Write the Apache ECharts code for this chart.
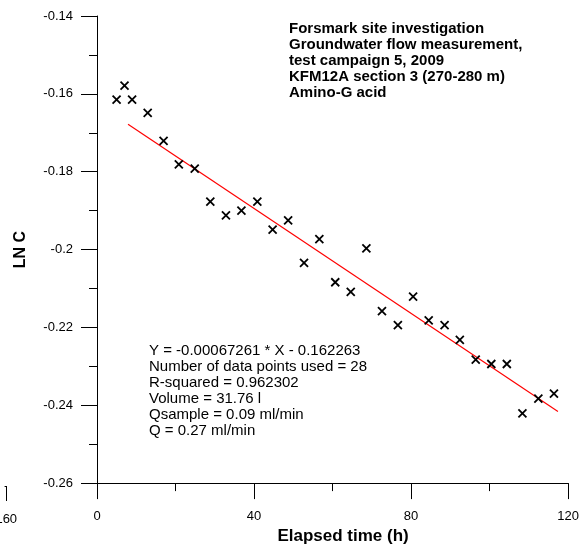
<!DOCTYPE html>
<html>
<head>
<meta charset="utf-8">
<script src="https://cdn.jsdelivr.net/npm/echarts@6/dist/echarts.min.js"></script>
<style>
html,body{margin:0;padding:0;background:#fff;}
#chart{width:582px;height:550px;}
</style>
</head>
<body>
<div id="chart"></div>
<script>
// Elapsed time (h) of each measurement
var timeH = [4.99, 7.01, 8.94, 12.91, 16.96, 20.84, 24.89, 28.86, 32.84, 36.78,
  40.84, 44.73, 48.68, 52.73, 56.63, 60.68, 64.63, 68.61, 72.58, 76.63,
  80.51, 84.48, 88.53, 92.41, 96.46, 100.43, 104.38, 108.35, 112.41, 116.38];
// LN C values
var lnC = [-0.1615, -0.1579, -0.1615, -0.1649, -0.1721, -0.1781, -0.1792, -0.1877, -0.1912, -0.1900,
  -0.1877, -0.1949, -0.1925, -0.2034, -0.1973, -0.2084, -0.2109, -0.1997, -0.2158, -0.2194,
  -0.2121, -0.2182, -0.2194, -0.2232, -0.2283, -0.2294, -0.2294, -0.2421, -0.2383, -0.2370];
// Regression line end points
var fitX = [7.9, 117.4];
var fitY = [-0.1678, -0.2416];
// Axis settings
var xTicks = {min: 0, max: 120, interval: 40};
var yTicks = {min: -0.26, max: -0.14, interval: 0.02};
// Fragment of a neighbouring panel's axis at the far left edge
var strayTicks = {min: 150, max: 160, shown: [160]};
// Texts
var titleLines = [
  'Forsmark site investigation',
  'Groundwater flow measurement,',
  'test campaign 5, 2009',
  'KFM12A section 3 (270-280 m)',
  'Amino-G acid'
];
var statLines = [
  'Y = -0.00067261 * X - 0.162263',
  'Number of data points used = 28',
  'R-squared = 0.962302',
  'Volume = 31.76 l',
  'Qsample = 0.09 ml/min',
  'Q = 0.27 ml/min'
];
var xName = 'Elapsed time (h)';
var yName = 'LN C';

var FONT = '"Liberation Sans", Arial, sans-serif';
var chart = echarts.init(document.getElementById('chart'), null, {renderer: 'canvas'});

var points = timeH.map(function (t, i) { return [t, lnC[i]]; });
var fitLine = fitX.map(function (t, i) { return [t, fitY[i]]; });

chart.setOption({
  animation: false,
  backgroundColor: '#fff',
  grid: [
    {left: 97, top: 16, width: 474, height: 470, containLabel: false},
    {left: 0, top: 16, width: 5, height: 470, containLabel: false}
  ],
  xAxis: [{
    gridIndex: 0,
    type: 'value',
    min: xTicks.min, max: xTicks.max, interval: xTicks.interval,
    name: xName,
    nameLocation: 'middle',
    nameGap: 39,
    nameTextStyle: {fontFamily: FONT, fontWeight: 'bold', fontSize: 17, color: '#000', padding: [0, 0, 0, 21]},
    axisLine: {show: true, onZero: false, lineStyle: {color: '#000', width: 1}},
    axisTick: {show: true, inside: false, length: 16, lineStyle: {color: '#000', width: 1}},
    minorTick: {show: true, splitNumber: 2, length: 8, lineStyle: {color: '#000', width: 1}},
    axisLabel: {fontFamily: FONT, fontSize: 13, color: '#000', margin: 27},
    splitLine: {show: false},
    minorSplitLine: {show: false}
  }, {
    gridIndex: 1,
    type: 'value',
    min: strayTicks.min, max: strayTicks.max, interval: strayTicks.max - strayTicks.min,
    axisLine: {show: true, onZero: false, lineStyle: {color: '#000', width: 1}},
    axisTick: {show: true, inside: false, length: 15, customValues: strayTicks.shown, lineStyle: {color: '#000', width: 1}},
    axisLabel: {fontFamily: FONT, fontSize: 13, color: '#000', margin: 27, customValues: strayTicks.shown, showMinLabel: false},
    splitLine: {show: false}
  }],
  yAxis: [{
    gridIndex: 0,
    type: 'value',
    min: yTicks.min, max: yTicks.max, interval: yTicks.interval,
    name: yName,
    nameLocation: 'middle',
    nameGap: 68,
    nameRotate: 90,
    nameTextStyle: {fontFamily: FONT, fontWeight: 'bold', fontSize: 16, color: '#000'},
    axisLine: {show: true, onZero: false, lineStyle: {color: '#000', width: 1}},
    axisTick: {show: true, inside: false, length: 16, lineStyle: {color: '#000', width: 1}},
    minorTick: {show: true, splitNumber: 2, length: 8, lineStyle: {color: '#000', width: 1}},
    axisLabel: {fontFamily: FONT, fontSize: 13, color: '#000', margin: 24},
    splitLine: {show: false},
    minorSplitLine: {show: false}
  }, {
    gridIndex: 1,
    type: 'value',
    show: false,
    min: yTicks.min, max: yTicks.max
  }],
  series: [{
    type: 'line',
    xAxisIndex: 0, yAxisIndex: 0,
    data: fitLine,
    showSymbol: false,
    symbol: 'none',
    lineStyle: {color: '#ff0000', width: 1.2},
    silent: true,
    z: 2
  }, {
    type: 'scatter',
    xAxisIndex: 0, yAxisIndex: 0,
    data: points,
    symbol: 'path://M0,0L10,10M10,0L0,10',
    symbolSize: 8,
    itemStyle: {color: 'rgba(0,0,0,0)', borderColor: '#000', borderWidth: 1.8, opacity: 1},
    z: 3
  }],
  graphic: [{
    type: 'text',
    left: 289, top: 21,
    style: {
      text: titleLines.join('\n'),
      fontFamily: FONT, fontWeight: 'bold', fontSize: 15, lineHeight: 16,
      fill: '#000'
    }
  }, {
    type: 'text',
    left: 149, top: 343,
    style: {
      text: statLines.join('\n'),
      fontFamily: FONT, fontSize: 15, lineHeight: 16,
      fill: '#000'
    }
  }]
});
</script>
</body>
</html>
